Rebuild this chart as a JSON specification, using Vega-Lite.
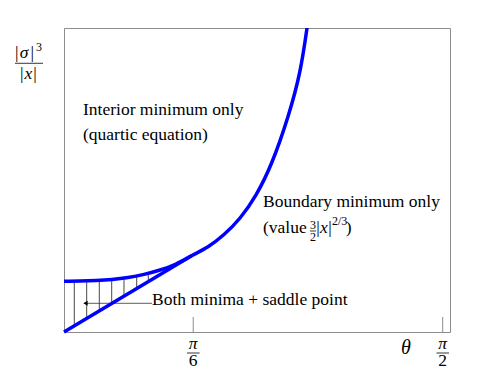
{
  "$schema": "https://vega.github.io/schema/vega-lite/v6.json",
  "width": 386,
  "height": 304,
  "autosize": "none",
  "padding": {"left": 64, "top": 28, "right": 48, "bottom": 42},
  "config": {"view": {"stroke": "#8c8c8c", "strokeWidth": 1}, "font": "Liberation Serif"},
  "datasets": {
    "curve": [{"x":0,"y":1.668},{"x":0.0664,"y":1.674},{"x":0.1327,"y":1.694},{"x":0.1991,"y":1.730},{"x":0.2654,"y":1.793},{"x":0.3318,"y":1.895},{"x":0.3982,"y":2.039},{"x":0.4645,"y":2.237},{"x":0.5309,"y":2.516},{"x":0.5973,"y":2.806},{"x":0.6636,"y":3.207},{"x":0.7300,"y":3.750},{"x":0.7964,"y":4.513},{"x":0.8627,"y":5.592},{"x":0.9291,"y":7.092},{"x":0.9788,"y":8.592},{"x":1.0079,"y":9.997},{"x":1.02,"y":10.69}],
    "straight": [{"x":0,"y":0},{"x":0.5309,"y":2.516}],
    "hatch": [{"x":0.0427,"y":0.202,"y2":1.670},{"x":0.0941,"y":0.446,"y2":1.682},{"x":0.1464,"y":0.694,"y2":1.701},{"x":0.1978,"y":0.937,"y2":1.729},{"x":0.2488,"y":1.179,"y2":1.777},{"x":0.3015,"y":1.429,"y2":1.848},{"x":0.3496,"y":1.657,"y2":1.934}],
    "ticks": [{"x":0.536,"y":0,"y2":0.493},{"x":1.5707,"y":0,"y2":0.493}],
    "arrow": [{"x":0.0859,"x2":0.365,"y":0.944}],
    "arrowhead": [{"x":0.089,"y":0.944}],
    "bars": [{"x":-0.2032,"x2":-0.0871,"y":8.839},{"x":1.0203,"x2":1.0452,"y":3.322},{"x":0.5102,"x2":0.5625,"y":-0.691},{"x":1.545,"x2":1.597,"y":-0.691}],
    "mainText": [{"x":0.0788,"y":7.138,"t":"Interior minimum only"},{"x":0.0788,"y":6.316,"t":"(quartic equation)"},{"x":0.8254,"y":4.102,"t":"Boundary minimum only"},{"x":0.8254,"y":3.247,"t":"(value"},{"x":0.365,"y":0.888,"t":"Both minima + saddle point"}],
    "centerText": [{"x":-0.1962,"y":9.013,"t":"|"},{"x":-0.1315,"y":9.013,"t":"|"},{"x":-0.1754,"y":8.306,"t":"|"},{"x":-0.1203,"y":8.306,"t":"|"},{"x":1.0535,"y":3.247,"t":"|"},{"x":1.1032,"y":3.247,"t":"|"},{"x":1.1808,"y":3.247,"t":")"},{"x":0.536,"y":-1.118,"t":"6"},{"x":1.5707,"y":-1.118,"t":"2"}],
    "italicText": [{"x":-0.1659,"y":9.013,"t":"σ"},{"x":-0.1481,"y":8.306,"t":"x"},{"x":1.0784,"y":3.247,"t":"x"},{"x":0.536,"y":-0.559,"t":"π"},{"x":1.5707,"y":-0.559,"t":"π"}],
    "theta": [{"x":1.4185,"y":-0.74,"t":"θ"}],
    "smallCenter": [{"x":-0.1037,"y":9.243,"t":"3"},{"x":1.0328,"y":3.388,"t":"3"},{"x":1.0328,"y":2.993,"t":"2"}],
    "smallLeft": [{"x":1.1115,"y":3.52,"t":"2/3"}]
  },
  "layer": [
    {
      "data": {"name": "hatch"},
      "mark": {"type": "rule", "color": "#333333", "strokeWidth": 0.9},
      "encoding": {
        "x": {"field": "x", "type": "quantitative", "scale": {"domain": [0, 1.601], "nice": false, "zero": false}, "axis": null},
        "y": {"field": "y", "type": "quantitative", "scale": {"domain": [0, 10], "nice": false, "zero": false}, "axis": null},
        "y2": {"field": "y2"}
      }
    },
    {
      "data": {"name": "ticks"},
      "mark": {"type": "rule", "color": "#8c8c8c", "strokeWidth": 1},
      "encoding": {
        "x": {"field": "x", "type": "quantitative"},
        "y": {"field": "y", "type": "quantitative"},
        "y2": {"field": "y2"}
      }
    },
    {
      "data": {"name": "arrow"},
      "mark": {"type": "rule", "color": "#333333", "strokeWidth": 0.8},
      "encoding": {
        "x": {"field": "x", "type": "quantitative"},
        "x2": {"field": "x2"},
        "y": {"field": "y", "type": "quantitative"}
      }
    },
    {
      "data": {"name": "arrowhead"},
      "mark": {"type": "point", "shape": "triangle-left", "filled": true, "color": "#000000", "size": 25, "opacity": 1},
      "encoding": {
        "x": {"field": "x", "type": "quantitative"},
        "y": {"field": "y", "type": "quantitative"}
      }
    },
    {
      "data": {"name": "straight"},
      "mark": {"type": "line", "color": "#0000ff", "strokeWidth": 3.5, "strokeCap": "butt"},
      "encoding": {
        "x": {"field": "x", "type": "quantitative"},
        "y": {"field": "y", "type": "quantitative"}
      }
    },
    {
      "data": {"name": "curve"},
      "mark": {"type": "line", "color": "#0000ff", "strokeWidth": 3.5, "interpolate": "natural", "clip": true},
      "encoding": {
        "x": {"field": "x", "type": "quantitative"},
        "y": {"field": "y", "type": "quantitative"}
      }
    },
    {
      "data": {"name": "bars"},
      "mark": {"type": "rule", "color": "#000000", "strokeWidth": 0.8},
      "encoding": {
        "x": {"field": "x", "type": "quantitative"},
        "x2": {"field": "x2"},
        "y": {"field": "y", "type": "quantitative"}
      }
    },
    {
      "data": {"name": "mainText"},
      "mark": {"type": "text", "align": "left", "baseline": "alphabetic", "font": "Liberation Serif", "fontSize": 17.5, "color": "#000000"},
      "encoding": {
        "x": {"field": "x", "type": "quantitative"},
        "y": {"field": "y", "type": "quantitative"},
        "text": {"field": "t"}
      }
    },
    {
      "data": {"name": "centerText"},
      "mark": {"type": "text", "align": "center", "baseline": "alphabetic", "font": "Liberation Serif", "fontSize": 17.5, "color": "#000000"},
      "encoding": {
        "x": {"field": "x", "type": "quantitative"},
        "y": {"field": "y", "type": "quantitative"},
        "text": {"field": "t"}
      }
    },
    {
      "data": {"name": "italicText"},
      "mark": {"type": "text", "align": "center", "baseline": "alphabetic", "font": "Liberation Serif", "fontStyle": "italic", "fontSize": 17.5, "color": "#000000"},
      "encoding": {
        "x": {"field": "x", "type": "quantitative"},
        "y": {"field": "y", "type": "quantitative"},
        "text": {"field": "t"}
      }
    },
    {
      "data": {"name": "theta"},
      "mark": {"type": "text", "align": "center", "baseline": "alphabetic", "font": "Liberation Serif", "fontStyle": "italic", "fontSize": 20, "color": "#000000"},
      "encoding": {
        "x": {"field": "x", "type": "quantitative"},
        "y": {"field": "y", "type": "quantitative"},
        "text": {"field": "t"}
      }
    },
    {
      "data": {"name": "smallCenter"},
      "mark": {"type": "text", "align": "center", "baseline": "alphabetic", "font": "Liberation Serif", "fontSize": 12, "color": "#000000"},
      "encoding": {
        "x": {"field": "x", "type": "quantitative"},
        "y": {"field": "y", "type": "quantitative"},
        "text": {"field": "t"}
      }
    },
    {
      "data": {"name": "smallLeft"},
      "mark": {"type": "text", "align": "left", "baseline": "alphabetic", "font": "Liberation Serif", "fontSize": 12, "color": "#000000"},
      "encoding": {
        "x": {"field": "x", "type": "quantitative"},
        "y": {"field": "y", "type": "quantitative"},
        "text": {"field": "t"}
      }
    }
  ]
}
